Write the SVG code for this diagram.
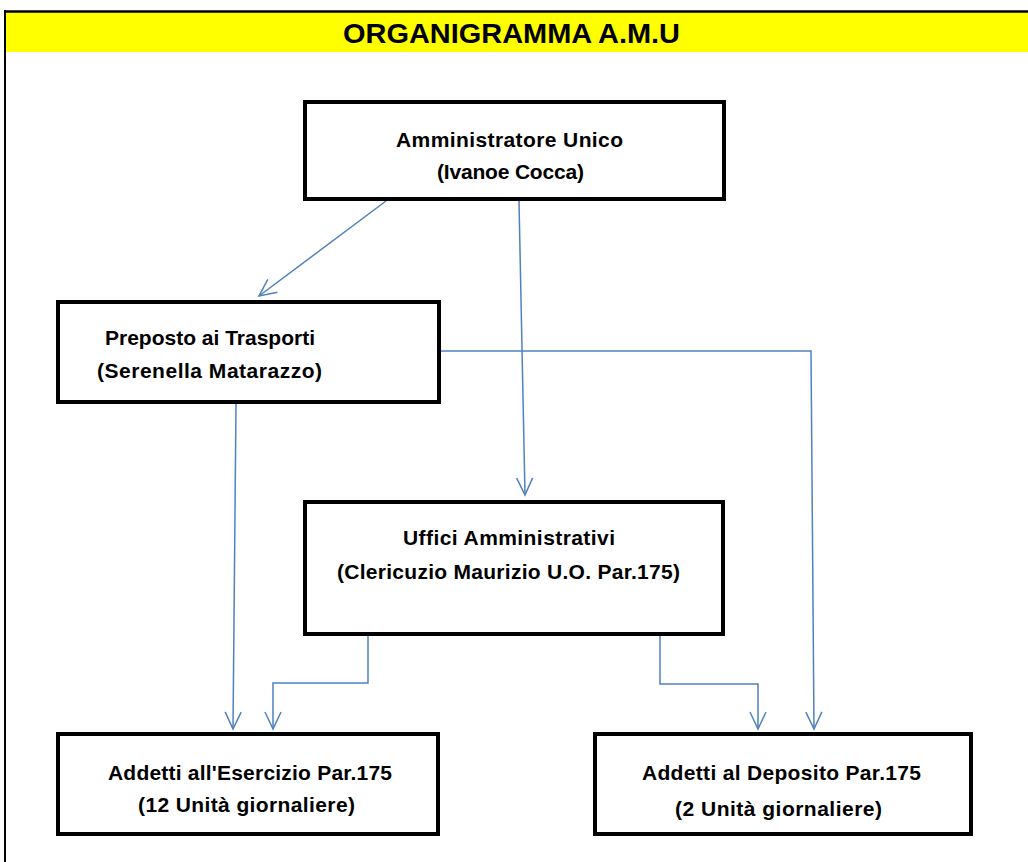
<svg xmlns="http://www.w3.org/2000/svg" width="1028" height="862" viewBox="0 0 1028 862">
<defs>
<style>
.box{fill:#ffffff;stroke:#000000;stroke-width:4}
.t{font-family:"Liberation Sans",Arial,sans-serif;font-weight:bold;font-size:21px;fill:#000000}
.title{font-family:"Liberation Sans",Arial,sans-serif;font-weight:bold;font-size:28px;fill:#000000}
.c{fill:none;stroke:#4F81BD;stroke-width:1.5}
</style>
<marker id="arr" viewBox="-19 -10 21 20" refX="0" refY="0" markerWidth="21" markerHeight="20" markerUnits="userSpaceOnUse" orient="auto">
<path d="M-17,-8 L0,0 L-17,8" fill="none" stroke="#4F81BD" stroke-width="1.5"/>
</marker>
</defs>
<rect x="0" y="0" width="1028" height="862" fill="#ffffff"/>
<g id="header">
<rect x="5" y="12" width="1023" height="40" fill="#ffff00"/>
<line x1="4" y1="11.5" x2="1028" y2="11.5" stroke="#000" stroke-width="2.5"/>
<line x1="5" y1="10" x2="5" y2="862" stroke="#000" stroke-width="2"/>
<text class="title" x="343" y="43" textLength="337" lengthAdjust="spacingAndGlyphs">ORGANIGRAMMA A.M.U</text>
</g>
<g id="connectors">
<line class="c" x1="386" y1="201" x2="259" y2="296" marker-end="url(#arr)"/>
<line class="c" x1="519" y1="201" x2="525" y2="495" marker-end="url(#arr)"/>
<polyline class="c" points="440,351 811,351 814,729" marker-end="url(#arr)"/>
<line class="c" x1="236" y1="404" x2="233" y2="729" marker-end="url(#arr)"/>
<polyline class="c" points="368,636 368,683 273,683 273,729" marker-end="url(#arr)"/>
<polyline class="c" points="660,636 660,684 758,684 758,729" marker-end="url(#arr)"/>
</g>
<g id="amministratore">
<rect class="box" x="305" y="102" width="419" height="97"/>
<text class="t" x="396" y="147" textLength="227">Amministratore Unico</text>
<text class="t" x="437" y="179" textLength="147">(Ivanoe Cocca)</text>
</g>
<g id="preposto">
<rect class="box" x="58" y="302" width="381" height="100"/>
<text class="t" x="105" y="345" textLength="210">Preposto ai Trasporti</text>
<text class="t" x="97" y="378" textLength="225">(Serenella Matarazzo)</text>
</g>
<g id="uffici">
<rect class="box" x="305" y="502" width="418" height="132"/>
<text class="t" x="403" y="545" textLength="212">Uffici Amministrativi</text>
<text class="t" x="337" y="579" textLength="343">(Clericuzio Maurizio U.O. Par.175)</text>
</g>
<g id="esercizio">
<rect class="box" x="58" y="734" width="380" height="100"/>
<text class="t" x="108" y="780" textLength="284">Addetti all'Esercizio Par.175</text>
<text class="t" x="138" y="812" textLength="217">(12 Unità giornaliere)</text>
</g>
<g id="deposito">
<rect class="box" x="595" y="734" width="376" height="100"/>
<text class="t" x="642" y="780" textLength="279">Addetti al Deposito Par.175</text>
<text class="t" x="675" y="816" textLength="207">(2 Unità giornaliere)</text>
</g>
</svg>
